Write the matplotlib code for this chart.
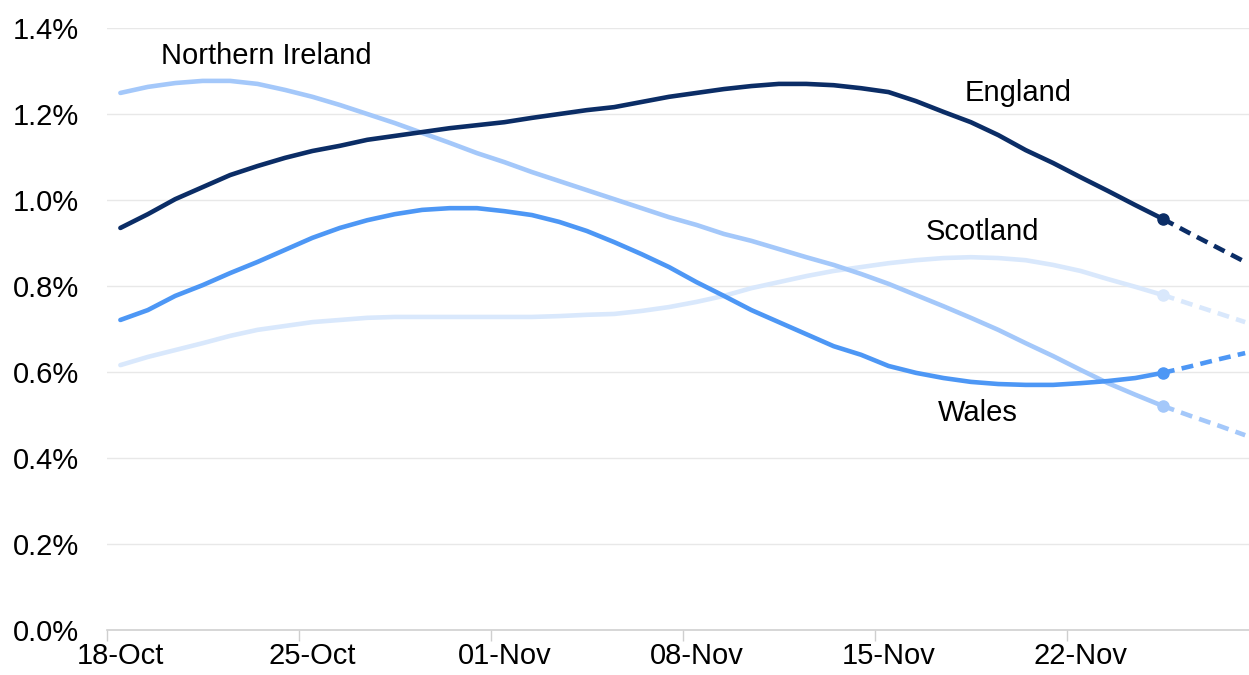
import numpy as np
import pandas as pd
import matplotlib
matplotlib.use("Agg")
import matplotlib.pyplot as plt
import matplotlib.dates as mdates
from matplotlib.ticker import FixedLocator, FuncFormatter, NullFormatter

plt.rcParams["font.family"] = ["Liberation Sans", "DejaVu Sans"]

# daily estimates (%), 18-Oct to 25-Nov
dates = pd.date_range("2020-10-18 12:00", periods=39, freq="D")
england = [0.935, 0.967, 1.002, 1.030, 1.058, 1.079, 1.098, 1.114, 1.126, 1.140,
           1.149, 1.158, 1.167, 1.174, 1.181, 1.191, 1.200, 1.209, 1.216, 1.228,
           1.240, 1.249, 1.258, 1.265, 1.270, 1.270, 1.267, 1.260, 1.251, 1.230,
           1.205, 1.181, 1.151, 1.116, 1.086, 1.053, 1.021, 0.988, 0.956]
northern_ireland = [1.249, 1.263, 1.272, 1.277, 1.277, 1.270, 1.256, 1.240, 1.221, 1.200,
                    1.179, 1.156, 1.133, 1.109, 1.088, 1.065, 1.044, 1.023, 1.002, 0.981,
                    0.960, 0.942, 0.921, 0.905, 0.886, 0.867, 0.849, 0.828, 0.805, 0.779,
                    0.753, 0.726, 0.698, 0.667, 0.637, 0.605, 0.574, 0.547, 0.521]
wales = [0.721, 0.744, 0.777, 0.802, 0.830, 0.856, 0.884, 0.912, 0.935, 0.953,
         0.967, 0.977, 0.981, 0.981, 0.974, 0.965, 0.949, 0.928, 0.902, 0.874,
         0.844, 0.809, 0.777, 0.744, 0.716, 0.688, 0.660, 0.640, 0.614, 0.598,
         0.586, 0.577, 0.572, 0.570, 0.570, 0.574, 0.579, 0.586, 0.598]
scotland = [0.616, 0.635, 0.651, 0.667, 0.684, 0.698, 0.707, 0.716, 0.721, 0.726,
            0.728, 0.728, 0.728, 0.728, 0.728, 0.728, 0.730, 0.733, 0.735, 0.742,
            0.751, 0.763, 0.777, 0.795, 0.809, 0.823, 0.835, 0.844, 0.853, 0.860,
            0.865, 0.867, 0.865, 0.860, 0.849, 0.835, 0.816, 0.798, 0.779]

# projected to 28-Nov (dashed)
proj_dates = pd.date_range("2020-11-25 12:00", periods=4, freq="D")
england_proj = [0.956, 0.922, 0.889, 0.856]
ni_proj = [0.521, 0.498, 0.476, 0.453]
wales_proj = [0.598, 0.613, 0.629, 0.644]
scotland_proj = [0.779, 0.758, 0.737, 0.716]

tick_days = pd.date_range("2020-10-18", periods=6, freq="7D")
tick_labels = [d.strftime("%d-%b") for d in tick_days]

series = [
    ("England", england, england_proj, "#0b2d66"),
    ("Wales", wales, wales_proj, "#4d97f5"),
    ("Northern Ireland", northern_ireland, ni_proj, "#a4c8fa"),
    ("Scotland", scotland, scotland_proj, "#d9e8fc"),
]
labels = {
    "Northern Ireland": ("2020-10-23 20:00", 1.335),
    "England": ("2020-11-20 05:00", 1.249),
    "Scotland": ("2020-11-18 22:00", 0.926),
    "Wales": ("2020-11-18 18:00", 0.505),
}

fig = plt.figure(figsize=(12.49, 6.75), dpi=100)
ax = fig.add_axes([0.0854, 0.0667, 0.9146, 0.8918])

for name, vals, proj, col in reversed(series):
    ax.plot(dates, vals, color=col, lw=3.3, solid_capstyle="round", zorder=3)
    ax.plot(proj_dates, proj, color=col, lw=3.3, ls=(0, (2.6, 1.6)), zorder=3)
    ax.plot(dates[-1:], vals[-1:], "o", color=col, ms=8, zorder=4)
    lx, ly = labels[name]
    ax.text(pd.Timestamp(lx), ly, name, fontsize=21, ha="center", va="center", color="black")

ax.set_ylim(0, 1.4)
ax.set_yticks(np.arange(0, 1.41, 0.2))
ax.yaxis.set_major_formatter(FuncFormatter(lambda v, p: f"{v:.1f}%"))
ax.grid(axis="y", color="#e8e8e8", lw=1)
ax.set_axisbelow(True)

x0 = mdates.date2num(pd.Timestamp("2020-10-18"))
ax.set_xlim(x0, x0 + 41.64)
ax.xaxis.set_major_locator(FixedLocator(mdates.date2num(tick_days)))
ax.xaxis.set_major_formatter(NullFormatter())
ax.xaxis.set_minor_locator(FixedLocator(mdates.date2num(tick_days) + 0.5))
ax.xaxis.set_minor_formatter(FuncFormatter(lambda v, p: tick_labels[p] if p < len(tick_labels) else ""))

ax.tick_params(axis="x", which="major", length=8, width=1, color="#cfcfcf")
ax.tick_params(axis="x", which="minor", length=0, pad=9, labelsize=21)
ax.tick_params(axis="y", length=0, pad=20, labelsize=21)

for s in ["top", "right", "left"]:
    ax.spines[s].set_visible(False)
ax.spines["bottom"].set_color("#d0d0d0")
ax.spines["bottom"].set_linewidth(1.2)

fig.savefig("out.png", dpi=100)
